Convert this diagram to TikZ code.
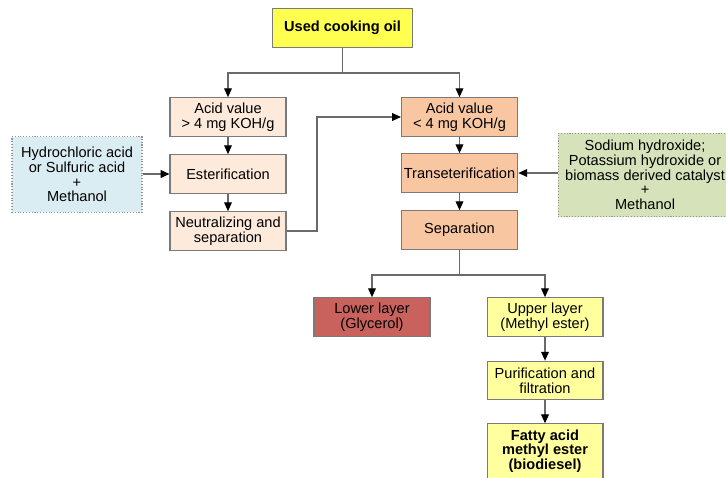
\documentclass[tikz,border=0pt]{standalone}
\usepackage{fontspec}
\setmainfont{Liberation Sans}
\usetikzlibrary{arrows.meta}
\definecolor{oilyellow}{HTML}{FFFF4F}
\definecolor{paleyellow}{HTML}{FFFF9E}
\definecolor{palepeach}{HTML}{FDEADB}
\definecolor{peach}{HTML}{F9C6A2}
\definecolor{glycerol}{HTML}{C9625D}
\definecolor{acidblue}{HTML}{DAEDF3}
\definecolor{basegreen}{HTML}{D6E3BA}
\definecolor{edgegray}{HTML}{7A7A7A}
\definecolor{linegray}{HTML}{6A6A6A}
\tikzset{
  box/.style={draw=edgegray, line width=0.6pt, minimum width=66pt, minimum height=22pt,
    inner sep=1.5pt, align=center, font=\fontsize{8.3}{8.4}\selectfont},
  sidebox/.style={box, draw=edgegray!80, densely dotted},
  line/.style={draw=linegray, line width=0.6pt},
  arr/.style={line, -{Triangle[length=5pt,width=4.4pt,color=black]}}
}
\begin{document}
\begin{tikzpicture}[x=0.02cm,y=-0.02cm]
\useasboundingbox (0,0) rectangle (726,477);
\clip (0,0) rectangle (726,477);
% main column
\node[box, fill=oilyellow, minimum width=80pt] (oil) at (342.5,28) {\textbf{Used cooking oil}};
\node[box, fill=palepeach] (acidhi) at (228,117) {Acid value\\> 4 mg KOH/g};
\node[box, fill=palepeach] (ester) at (228,174) {Esterification};
\node[box, fill=palepeach] (neut) at (228,231) {Neutralizing and\\separation};
\node[box, fill=peach] (acidlo) at (459.5,117) {Acid value\\< 4 mg KOH/g};
\node[box, fill=peach] (trans) at (459.5,173) {Transeterification};
\node[box, fill=peach] (sep) at (459.5,230) {Separation};
\node[box, fill=glycerol] (lower) at (372,317) {Lower layer\\(Glycerol)};
\node[box, fill=paleyellow] (upper) at (545,317) {Upper layer\\(Methyl ester)};
\node[box, fill=paleyellow] (purif) at (545,380.5) {Purification and\\filtration};
\node[box, fill=paleyellow, minimum height=31pt] (fame) at (545,451) {\textbf{Fatty acid}\\\textbf{methyl ester}\\\textbf{(biodiesel)}};
% catalysts
\node[sidebox, fill=acidblue, minimum width=74pt, minimum height=43pt] (hcl) at (77,174.5)
  {Hydrochloric acid\\or Sulfuric acid\\+\\Methanol};
\node[sidebox, fill=basegreen, minimum width=99pt, minimum height=47.5pt] (naoh) at (645,175)
  {Sodium hydroxide;\\Potassium hydroxide or\\biomass derived catalyst\\+\\Methanol};
% connectors
\coordinate (split) at (342.5,73);
\coordinate (loopback) at (317,117);
\coordinate (layers) at (459.5,275);
\draw[line] (oil.south) -- (split);
\draw[arr] (split) -| (acidhi.north);
\draw[arr] (split) -| (acidlo.north);
\draw[arr] (acidhi) -- (ester);
\draw[arr] (ester) -- (neut);
\draw[arr] (hcl.east |- ester.west) -- (ester.west);
\draw[arr] (neut.east) -| (loopback) -- (acidlo.west);
\draw[arr] (acidlo) -- (trans);
\draw[arr] (trans) -- (sep);
\draw[arr] (naoh.west |- trans.east) -- (trans.east);
\draw[line] (sep.south) -- (layers);
\draw[arr] (layers) -| (lower.north);
\draw[arr] (layers) -| (upper.north);
\draw[arr] (upper) -- (purif);
\draw[arr] (purif) -- (fame);
\end{tikzpicture}
\end{document}
